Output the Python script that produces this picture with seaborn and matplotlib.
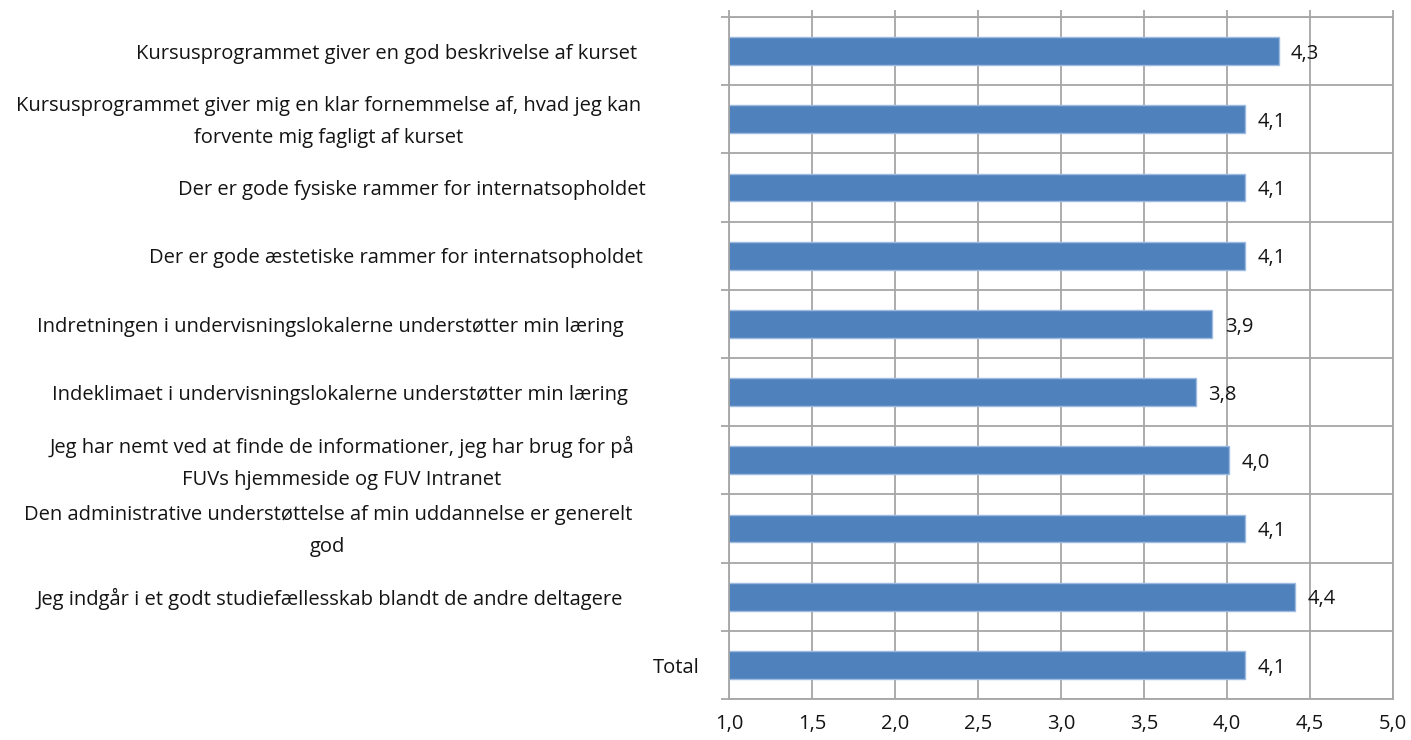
import numpy as np
import pandas as pd
import seaborn as sns
import matplotlib.pyplot as plt
from matplotlib.ticker import FixedLocator

# statements and mean scores
statements = [
    'Kursusprogrammet giver en god beskrivelse af kurset',
    'Kursusprogrammet giver mig en klar fornemmelse af, hvad jeg kan\nforvente mig fagligt af kurset',
    'Der er gode fysiske rammer for internatsopholdet',
    'Der er gode æstetiske rammer for internatsopholdet',
    'Indretningen i undervisningslokalerne understøtter min læring',
    'Indeklimaet i undervisningslokalerne understøtter min læring',
    'Jeg har nemt ved at finde de informationer, jeg har brug for på\nFUVs hjemmeside og FUV Intranet',
    'Den administrative understøttelse af min uddannelse er generelt\ngod',
    'Jeg indgår i et godt studiefællesskab blandt de andre deltagere',
    'Total',
]
scores = [4.31, 4.11, 4.11, 4.11, 3.91, 3.81, 4.01, 4.11, 4.41, 4.11]
x_ticks = [1.0, 1.5, 2.0, 2.5, 3.0, 3.5, 4.0, 4.5, 5.0]
x_tick_labels = ['1,0', '1,5', '2,0', '2,5', '3,0', '3,5', '4,0', '4,5', '5,0']

# where each label ends on the left (pixels from the left edge in the original)
label_right_px = [637, 641, 646, 643, 624, 628, 634, 632, 623, 700]

df = pd.DataFrame({'statement': statements, 'score': scores})

sns.set_theme(style='white')
plt.rcParams['font.family'] = ['Open Sans', 'DejaVu Sans']
text_col = '#141414'
grid_col = '#a6a6a6'
fs = 14.5

fig = plt.figure(figsize=(14.11, 7.40), dpi=100)
ax = fig.add_axes([0.5167, 0.0554, 0.4706, 0.9216])

sns.barplot(data=df, x='score', y='statement', orient='h', color='#4f81bd',
            saturation=1, width=0.41, edgecolor='#9dbbe0', linewidth=1.0, ax=ax)

ax.set_xlim(1.0, 5.0)
ax.set_ylim(len(statements) - 0.5, -0.5)
ax.set_xlabel('')
ax.set_ylabel('')

# value labels with comma decimals
for p, v in zip(ax.patches, scores):
    ax.text(p.get_x() + p.get_width() + 0.075, p.get_y() + p.get_height() / 2 + 0.04,
            f'{v:.1f}'.replace('.', ','), ha='left', va='center',
            fontsize=fs, color=text_col)

# category labels, placed by hand like the Excel original
for i, (s, r) in enumerate(zip(statements, label_right_px)):
    xr = (r - 729) / 664
    ax.text(xr, i + 0.04, s, ha='right', va='center', multialignment='center',
            fontsize=fs, color=text_col, linespacing=1.8,
            transform=ax.get_yaxis_transform())

ax.set_xticks(x_ticks)
ax.set_xticklabels(x_tick_labels, fontsize=fs, color=text_col)
ax.yaxis.set_major_locator(FixedLocator(np.arange(-0.5, len(statements), 1)))
ax.set_yticklabels([])

ax.grid(True, axis='both', color=grid_col, linewidth=1.3)
ax.set_axisbelow(True)
for sp in ax.spines.values():
    sp.set_color(grid_col)
    sp.set_linewidth(1.3)

ax.tick_params(axis='x', top=True, bottom=False, labeltop=False, labelbottom=True,
               direction='out', length=5, width=1.3, color=grid_col, pad=6)
ax.tick_params(axis='y', left=True, direction='out', length=6, width=1.3, color=grid_col)

fig.savefig('out.png', dpi=100)
